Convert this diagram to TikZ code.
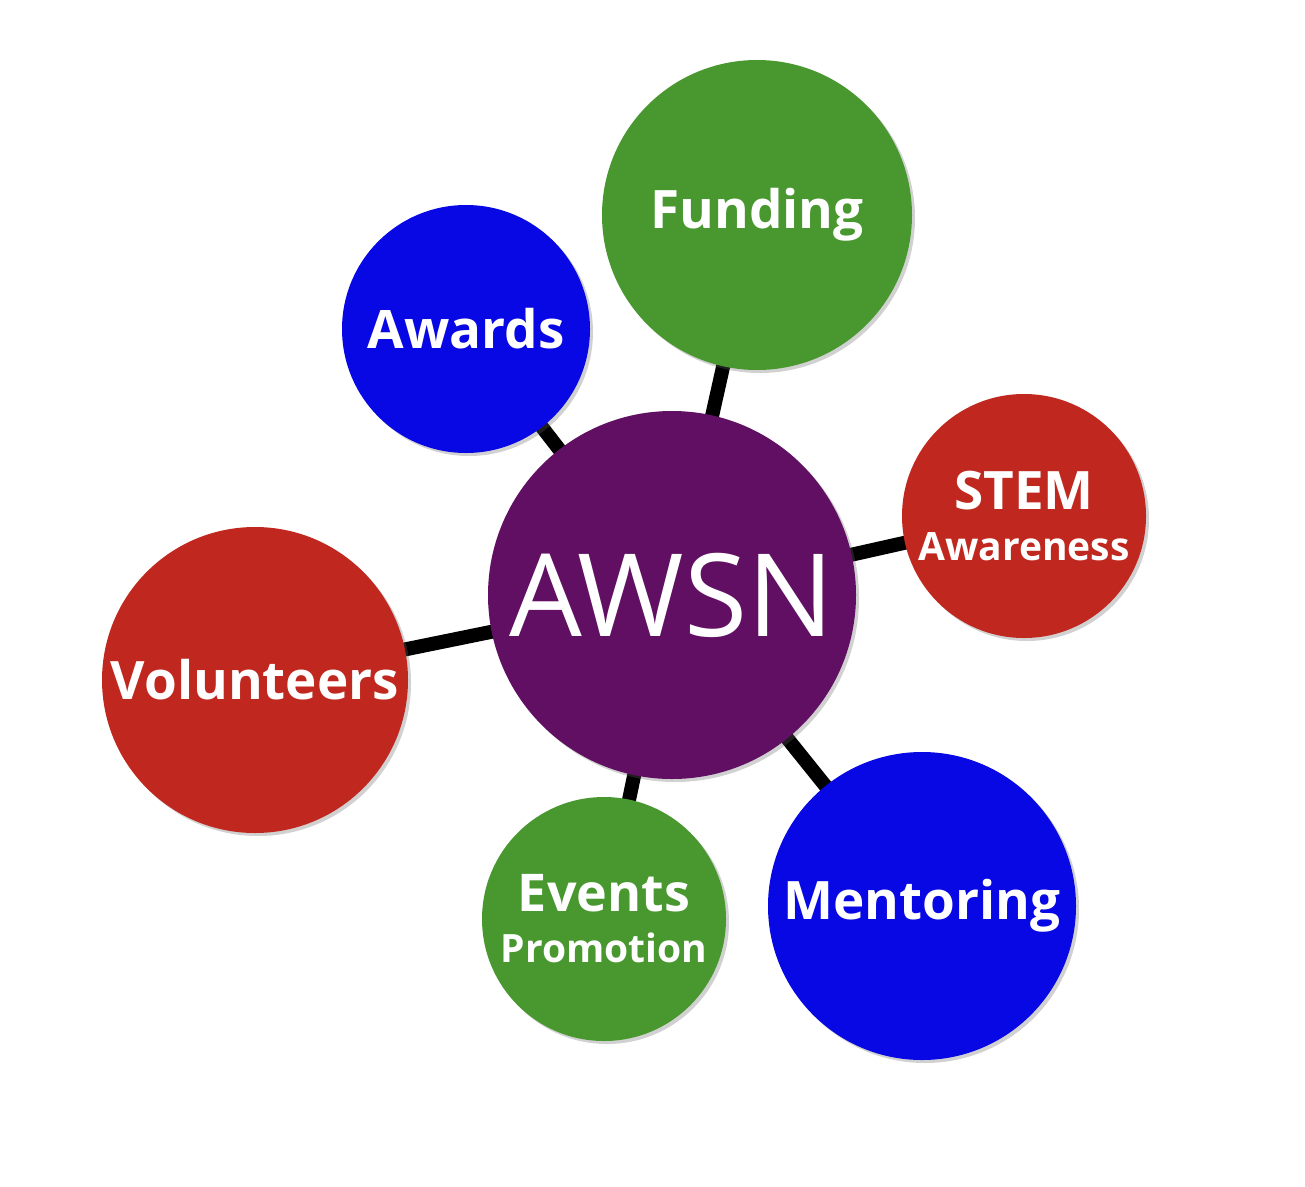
\documentclass[tikz,border=0pt]{standalone}
\usepackage{fontspec}
\setmainfont{Open Sans}
\usetikzlibrary{shadows,backgrounds}
\definecolor{awsnpurple}{HTML}{600F62}
\definecolor{awsngreen}{HTML}{48982F}
\definecolor{awsnblue}{HTML}{0808E4}
\definecolor{awsnred}{HTML}{C0281F}

\begin{document}
\begin{tikzpicture}[x=1pt,y=-1pt,line cap=round,line join=round,
    bubble/.style={circle,inner sep=0pt,text=white,align=center,
      drop shadow={shadow xshift=3pt,shadow yshift=-3pt,opacity=.3,fill=black!60}},
    bigtext/.style={font=\fontsize{53}{51}\selectfont\bfseries},
    smalltext/.style={font=\fontsize{39}{51}\selectfont\bfseries},
    link/.style={line width=14pt,black,line cap=butt}]
        \useasboundingbox (0,0) rectangle (1305,1186);

        \node[bubble,fill=awsnpurple,minimum size=368pt,font=\fontsize{115}{115}\selectfont] (awsn) at (672,595) {AWSN};

        \node[bubble,bigtext,fill=awsngreen,minimum size=310pt] (funding) at (757,215) {\raisebox{-4pt}{Funding}};
        \node[bubble,bigtext,fill=awsnblue,minimum size=248pt] (awards) at (466,329) {Awards};
        \node[bubble,smalltext,fill=awsnred,minimum size=244pt] (stem) at (1024,516) {{\fontsize{53}{51}\selectfont STEM}\\Awareness};
        \node[bubble,bigtext,fill=awsnred,minimum size=306pt] (volunteers) at (255,680) {Volunteers};
        \node[bubble,smalltext,fill=awsngreen,minimum size=244pt] (events) at (604,919) {{\fontsize{52}{51}\selectfont Events}\\Promotion};
        \node[bubble,bigtext,fill=awsnblue,minimum size=308pt] (mentoring) at (922,906) {\raisebox{-4pt}{Mentoring}};

        \begin{pgfonlayer}{background}
        \foreach \spoke in {funding,awards,stem,volunteers,events,mentoring}
            \draw[link] (awsn.center) -- (\spoke.center);
        \end{pgfonlayer}

\end{tikzpicture}
\end{document}
